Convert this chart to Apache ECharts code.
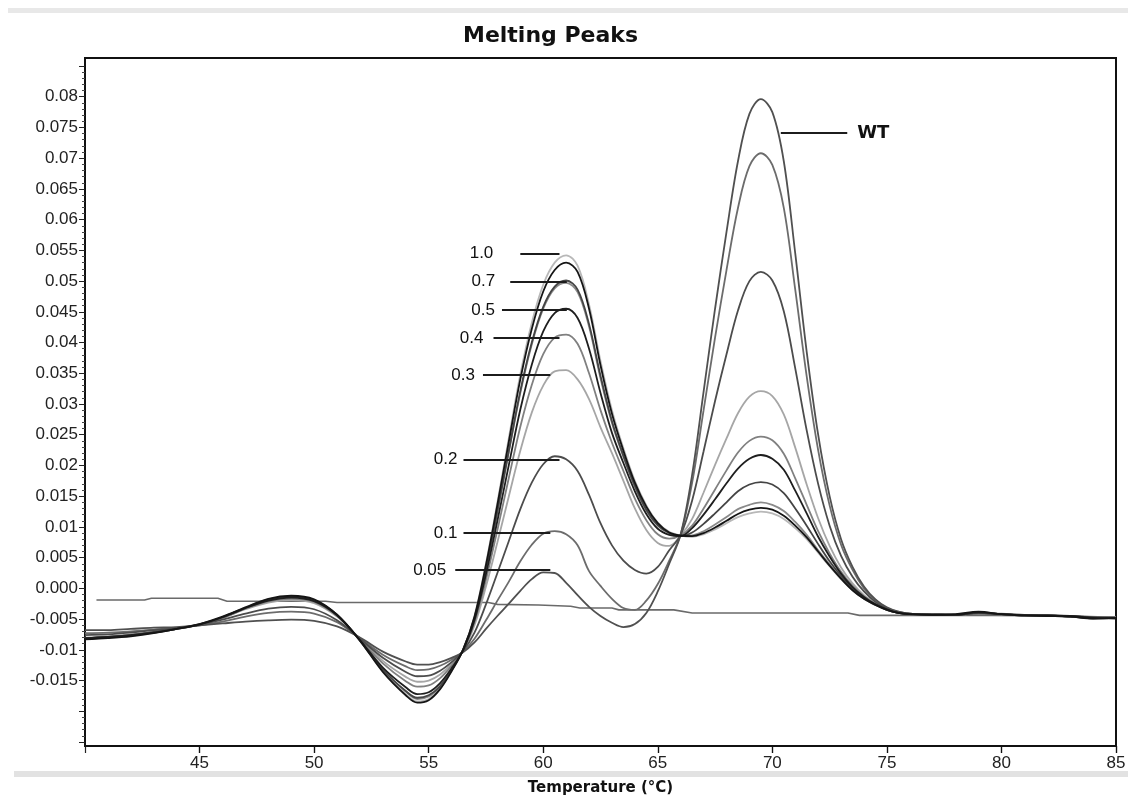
<!DOCTYPE html>
<html>
<head>
<meta charset="utf-8">
<title>Melting Peaks</title>
<script src="https://cdn.jsdelivr.net/npm/echarts/dist/echarts.min.js"></script>
<style>
  html, body { margin: 0; padding: 0; background: #fff; }
  #chart { width: 1128px; height: 798px; }
</style>
</head>
<body>
<div id="chart"></div>
<script>
// temperature grid shared by all sample curves (°C)
var temps = [40,41,42,43,44,45,46,47,48,49,50,51,52,53,54,
  54.5,55,55.5,56,56.5,57,57.5,58,58.5,59,59.5,60,60.5,61,61.5,62,62.5,63,63.5,64,
  64.5,65,65.5,66,66.5,67,67.5,68,68.5,69,69.5,70,70.5,71,71.5,72,72.5,73,73.5,74,
  74.5,75,75.5,76,77,78,79,80,81,82,83,84,85];

// -dF/dT, one array per sample
var s10 = [-0.0082,-0.0080,-0.0077,-0.0072,-0.0066,-0.0059,-0.0047,-0.0031,-0.0018,-0.0013,-0.0019,-0.0043,-0.0085,-0.0135,-0.0172,
  -0.0184,-0.0180,-0.0163,-0.0134,-0.0100,-0.0045,0.0040,0.0140,0.0245,0.0348,
  0.0432,0.0494,0.0530,0.0542,0.0525,0.0462,0.0370,0.0290,0.0228,0.0175,
  0.0135,0.0107,0.0092,0.0086,0.0084,0.0088,0.0096,0.0106,0.0116,0.0122,
  0.0125,0.0122,0.0113,0.0098,0.0080,0.0058,0.0036,0.0015,-0.0003,-0.0017,
  -0.0027,-0.0035,-0.0040,-0.0042,
  -0.0043,-0.0043,-0.0041,-0.0042,-0.0044,-0.0044,-0.0045,-0.0048,-0.0047];
var s10b = [-0.0083,-0.0081,-0.0078,-0.0073,-0.0066,-0.0058,-0.0046,-0.0031,-0.0017,-0.0012,-0.0018,-0.0043,-0.0085,-0.0136,-0.0174,
  -0.0186,-0.0182,-0.0164,-0.0135,-0.0100,-0.0046,0.0038,0.0136,0.0239,0.0340,
  0.0422,0.0483,0.0518,0.0530,0.0515,0.0455,0.0363,0.0284,0.0224,0.0172,
  0.0133,0.0106,0.0091,0.0086,0.0085,0.0090,0.0099,0.0110,0.0121,0.0128,
  0.0131,0.0128,0.0118,0.0102,0.0083,0.0060,0.0037,0.0016,-0.0003,-0.0017,
  -0.0027,-0.0035,-0.0040,-0.0042,
  -0.0043,-0.0042,-0.0038,-0.0042,-0.0044,-0.0045,-0.0046,-0.0049,-0.0048];
var s07 = [-0.0081,-0.0079,-0.0076,-0.0071,-0.0065,-0.0058,-0.0047,-0.0032,-0.0019,-0.0014,-0.0020,-0.0043,-0.0085,-0.0132,-0.0167,
  -0.0178,-0.0174,-0.0159,-0.0132,-0.0100,-0.0048,0.0032,0.0126,0.0224,0.0321,
  0.0400,0.0458,0.0491,0.0501,0.0486,0.0430,0.0346,0.0272,0.0216,0.0167,
  0.0128,0.0103,0.0090,0.0085,0.0091,0.0105,0.0122,0.0140,0.0158,0.0169,
  0.0173,0.0169,0.0155,0.0130,0.0102,0.0072,0.0044,0.0020,0.0000,-0.0016,
  -0.0026,-0.0035,-0.0040,-0.0042,
  -0.0043,-0.0043,-0.0040,-0.0042,-0.0043,-0.0044,-0.0045,-0.0047,-0.0048];
var s07b = [-0.0082,-0.0080,-0.0076,-0.0072,-0.0066,-0.0059,-0.0048,-0.0032,-0.0018,-0.0013,-0.0019,-0.0044,-0.0085,-0.0133,-0.0168,
  -0.0180,-0.0176,-0.0160,-0.0133,-0.0100,-0.0049,0.0031,0.0124,0.0222,0.0318,
  0.0397,0.0455,0.0488,0.0497,0.0482,0.0426,0.0342,0.0269,0.0214,0.0165,
  0.0127,0.0102,0.0090,0.0085,0.0086,0.0093,0.0104,0.0116,0.0129,0.0136,
  0.0140,0.0136,0.0126,0.0108,0.0087,0.0062,0.0039,0.0016,-0.0002,-0.0017,
  -0.0027,-0.0035,-0.0040,-0.0042,
  -0.0042,-0.0043,-0.0041,-0.0041,-0.0044,-0.0044,-0.0046,-0.0048,-0.0047];
var s05 = [-0.0081,-0.0079,-0.0076,-0.0072,-0.0066,-0.0059,-0.0047,-0.0032,-0.0020,-0.0015,-0.0021,-0.0044,-0.0084,-0.0129,-0.0161,
  -0.0172,-0.0169,-0.0154,-0.0130,-0.0101,-0.0052,0.0023,0.0110,0.0201,0.0291,
  0.0364,0.0418,0.0448,0.0455,0.0440,0.0390,0.0318,0.0253,0.0204,0.0158,
  0.0121,0.0097,0.0087,0.0085,0.0098,0.0120,0.0145,0.0171,0.0195,0.0211,
  0.0217,0.0211,0.0193,0.0159,0.0122,0.0084,0.0052,0.0024,0.0002,-0.0014,
  -0.0026,-0.0034,-0.0040,-0.0042,
  -0.0043,-0.0043,-0.0039,-0.0042,-0.0044,-0.0044,-0.0045,-0.0048,-0.0049];
var s04 = [-0.0081,-0.0079,-0.0076,-0.0071,-0.0066,-0.0059,-0.0048,-0.0033,-0.0021,-0.0017,-0.0022,-0.0045,-0.0083,-0.0122,-0.0151,
  -0.0160,-0.0158,-0.0146,-0.0126,-0.0101,-0.0055,0.0014,0.0095,0.0180,0.0263,
  0.0331,0.0381,0.0408,0.0413,0.0398,0.0350,0.0290,0.0237,0.0191,0.0146,
  0.0111,0.0088,0.0081,0.0086,0.0102,0.0130,0.0161,0.0192,0.0221,0.0240,
  0.0247,0.0241,0.0219,0.0179,0.0136,0.0093,0.0057,0.0027,0.0004,-0.0013,
  -0.0025,-0.0034,-0.0040,-0.0042,
  -0.0042,-0.0043,-0.0041,-0.0042,-0.0043,-0.0045,-0.0045,-0.0047,-0.0048];
var s03 = [-0.0080,-0.0078,-0.0075,-0.0071,-0.0066,-0.0059,-0.0048,-0.0034,-0.0023,-0.0019,-0.0024,-0.0046,-0.0082,-0.0118,-0.0144,
  -0.0152,-0.0150,-0.0140,-0.0123,-0.0101,-0.0060,0.0003,0.0075,0.0150,0.0224,
  0.0286,0.0330,0.0353,0.0355,0.0340,0.0308,0.0262,0.0220,0.0175,0.0130,
  0.0095,0.0074,0.0069,0.0086,0.0113,0.0156,0.0201,0.0244,0.0285,0.0312,
  0.0321,0.0313,0.0283,0.0229,0.0169,0.0114,0.0069,0.0034,0.0008,-0.0011,
  -0.0024,-0.0034,-0.0039,-0.0042,
  -0.0043,-0.0042,-0.0040,-0.0042,-0.0044,-0.0044,-0.0046,-0.0048,-0.0047];
var s02 = [-0.0076,-0.0075,-0.0072,-0.0068,-0.0065,-0.0059,-0.0051,-0.0041,-0.0033,-0.0030,-0.0034,-0.0052,-0.0082,-0.0113,-0.0136,
  -0.0143,-0.0142,-0.0134,-0.0120,-0.0102,-0.0072,-0.0026,0.0025,0.0077,0.0129,
  0.0172,0.0202,0.0215,0.0210,0.0191,0.0152,0.0106,0.0070,0.0045,0.0030,
  0.0024,0.0035,0.0062,0.0087,0.0143,0.0223,0.0305,0.0381,0.0452,0.0500,
  0.0515,0.0501,0.0451,0.0358,0.0257,0.0170,0.0102,0.0053,0.0019,-0.0005,
  -0.0022,-0.0033,-0.0039,-0.0041,
  -0.0042,-0.0043,-0.0040,-0.0042,-0.0044,-0.0045,-0.0046,-0.0048,-0.0048];
var s01 = [-0.0073,-0.0072,-0.0070,-0.0067,-0.0064,-0.0060,-0.0054,-0.0046,-0.0040,-0.0038,-0.0041,-0.0055,-0.0081,-0.0108,-0.0127,
  -0.0133,-0.0132,-0.0126,-0.0116,-0.0103,-0.0082,-0.0052,-0.0020,0.0011,0.0044,
  0.0071,0.0089,0.0093,0.0088,0.0070,0.0028,0.0004,-0.0017,-0.0032,-0.0035,
  -0.0020,0.0007,0.0045,0.0088,0.0172,0.0290,0.0408,0.0518,0.0619,0.0687,
  0.0708,0.0689,0.0619,0.0486,0.0345,0.0225,0.0135,0.0071,0.0030,0.0000,
  -0.0019,-0.0032,-0.0038,-0.0041,
  -0.0042,-0.0043,-0.0041,-0.0042,-0.0044,-0.0044,-0.0046,-0.0048,-0.0047];
var s005 = [-0.0068,-0.0068,-0.0066,-0.0064,-0.0063,-0.0060,-0.0057,-0.0054,-0.0052,-0.0051,-0.0053,-0.0062,-0.0080,-0.0103,-0.0119,
  -0.0124,-0.0124,-0.0120,-0.0113,-0.0104,-0.0088,-0.0066,-0.0045,-0.0025,-0.0004,
  0.0015,0.0026,0.0025,0.0009,-0.0011,-0.0030,-0.0045,-0.0056,-0.0063,-0.0058,
  -0.0040,-0.0005,0.0040,0.0088,0.0185,0.0320,0.0455,0.0580,0.0695,0.0772,
  0.0796,0.0775,0.0695,0.0545,0.0385,0.0250,0.0150,0.0080,0.0035,0.0003,
  -0.0018,-0.0031,-0.0038,-0.0041,
  -0.0042,-0.0043,-0.0040,-0.0042,-0.0044,-0.0044,-0.0046,-0.0049,-0.0048];

// no-template control, drawn as its own stepped trace
var ntcTemps = [40.5,42.6,42.9,45.8,46.2,50.5,51,57.6,58,59.8,61.2,61.6,63,63.3,65.7,66.5,73.3,73.8,79.6,83,85];
var ntcValues = [-0.0019,-0.0019,-0.0016,-0.0016,-0.0021,-0.0021,-0.0023,-0.0023,-0.0026,-0.0027,-0.0029,-0.0032,-0.0032,-0.0035,-0.0035,-0.0040,-0.0040,-0.0044,-0.0044,-0.0045,-0.0047];

// call-out lines: label, from / to temperature, height
var noteLabels = ['1.0', '0.7', '0.5', '0.4', '0.3', '0.2', '0.1', '0.05', 'WT'];
var noteFrom = [59.0, 58.56, 58.2, 57.83, 57.37, 56.52, 56.52, 56.16, 70.37];
var noteTo = [60.71, 61.03, 61.03, 60.71, 60.31, 60.71, 60.31, 60.31, 73.27];
var noteAt = [0.0545, 0.0499, 0.0453, 0.0407, 0.0347, 0.0210, 0.0090, 0.0030, 0.0741];
var noteGap = [27, 15, 7, 10, 8, 6, 6, 9, 10];

var font = 'Liberation Sans, Arial, sans-serif';
var boldFont = 'DejaVu Sans, Liberation Sans, sans-serif';

function noteLabel(i) {
  var isWT = noteLabels[i] === 'WT';
  return {
    show: true,
    position: isWT ? 'end' : 'start',
    distance: noteGap[i],
    formatter: noteLabels[i],
    color: '#111',
    fontFamily: isWT ? boldFont : font,
    fontSize: isWT ? 18 : 17,
    fontWeight: isWT ? 'bold' : 'normal'
  };
}

function curve(name, values, color, notes) {
  var s = {
    name: name,
    type: 'line',
    xAxisIndex: 0,
    yAxisIndex: 0,
    data: temps.map(function (t, i) { return [t, values[i]]; }),
    symbol: 'none',
    smooth: 0.35,
    lineStyle: { color: color, width: 1.8 },
    emphasis: { disabled: true }
  };
  if (notes != null) {
    // one markLine per series, so all of its call-outs go in here
    s.markLine = {
      silent: true,
      symbol: ['none', 'none'],
      animation: false,
      lineStyle: { color: '#1c1c1c', width: 2, type: 'solid' },
      data: notes.map(function (k) {
        return [
          { coord: [noteFrom[k], noteAt[k]], label: noteLabel(k) },
          { coord: [noteTo[k], noteAt[k]] }
        ];
      })
    };
  }
  return s;
}

var chart = echarts.init(document.getElementById('chart'));

var option = {
  animation: false,
  backgroundColor: '#fff',
  title: {
    text: 'Melting Peaks',
    left: 458,
    top: 20,
    textStyle: { fontFamily: boldFont, fontSize: 22, fontWeight: 'bold', color: '#111' }
  },
  // grid 0 holds the data (its y range ends on round ticks),
  // grid 1 is the full plot frame and carries the temperature labels,
  // grid 2 is the thin strip under the frame where the x ticks hang
  grid: [
    { left: 85, right: 12, top: 66, bottom: 56, outerBoundsMode: 'none' },
    { left: 85, right: 12, top: 58, bottom: 52, outerBoundsMode: 'none', show: true, borderColor: '#111', borderWidth: 2 },
    { left: 85, right: 12, top: 746, height: 7, outerBoundsMode: 'none' }
  ],
  xAxis: [
    {
      gridIndex: 0,
      type: 'value',
      min: 40,
      max: 85,
      show: false
    },
    {
      gridIndex: 1,
      type: 'value',
      min: 40,
      max: 85,
      interval: 5,
      position: 'bottom',
      name: 'Temperature (°C)',
      nameLocation: 'middle',
      nameGap: 35,
      nameTextStyle: { fontFamily: boldFont, fontSize: 15, fontWeight: 'bold', color: '#111' },
      axisLine: { show: true, onZero: true, lineStyle: { color: '#111', width: 2 } },
      axisTick: { show: true, inside: false, length: 7, lineStyle: { color: '#111', width: 1.2 } },
      axisLabel: { show: true, showMinLabel: false, margin: 9, fontFamily: font, fontSize: 17, color: '#222' },
      splitLine: { show: false }
    },
    {
      gridIndex: 2,
      type: 'value',
      min: 40,
      max: 85,
      interval: 5,
      axisLine: { show: false },
      axisTick: { show: false },
      axisLabel: { show: false },
      splitLine: { show: true, lineStyle: { color: '#222', width: 1.2 } }
    }
  ],
  yAxis: [
    {
      gridIndex: 0,
      type: 'value',
      min: -0.025,
      max: 0.085,
      interval: 0.005,
      axisLine: { show: false, onZero: false },
      axisTick: { show: true, inside: false, length: 6, lineStyle: { color: '#222', width: 1 } },
      minorTick: { show: true, splitNumber: 5, length: 3, lineStyle: { color: '#444' } },
      axisLabel: {
        margin: 7,
        fontFamily: font,
        fontSize: 17,
        color: '#222',
        formatter: function (v) {
          if (v < -0.0151 || v > 0.0801) return '';
          if (Math.abs(v) < 1e-9) return '0.000';
          return String(+v.toFixed(3));
        }
      },
      splitLine: { show: false },
      minorSplitLine: { show: false }
    },
    { gridIndex: 1, type: 'value', min: 0, max: 1, show: false },
    { gridIndex: 2, type: 'value', min: 0, max: 1, show: false }
  ],
  graphic: [
    // grey strips left over from the screen capture
    { type: 'rect', z: -1, shape: { x: 8, y: 8, width: 1120, height: 5 }, style: { fill: '#e8e8e8' } },
    { type: 'rect', z: -1, shape: { x: 14, y: 771, width: 1114, height: 6 }, style: { fill: '#e2e2e2' } }
  ],
  series: [
    {
      name: 'NTC',
      type: 'line',
      xAxisIndex: 0,
      yAxisIndex: 0,
      data: ntcTemps.map(function (t, i) { return [t, ntcValues[i]]; }),
      symbol: 'none',
      lineStyle: { color: '#6a6a6a', width: 1.6 },
      emphasis: { disabled: true }
    },
    curve('1.0', s10, '#b8b8b8', [0]),
    curve('0.3', s03, '#a6a6a6', [4]),
    curve('0.7b', s07b, '#8a8a8a', null),
    curve('0.4', s04, '#808080', [3]),
    curve('0.1', s01, '#6c6c6c', [6]),
    curve('0.2', s02, '#4c4c4c', [5]),
    curve('0.05', s005, '#505050', [7, 8]),
    curve('0.7', s07, '#444444', [1]),
    curve('0.5', s05, '#1e1e1e', [2]),
    curve('1.0b', s10b, '#151515', null)
  ]
};

chart.setOption(option);
</script>
</body>
</html>
